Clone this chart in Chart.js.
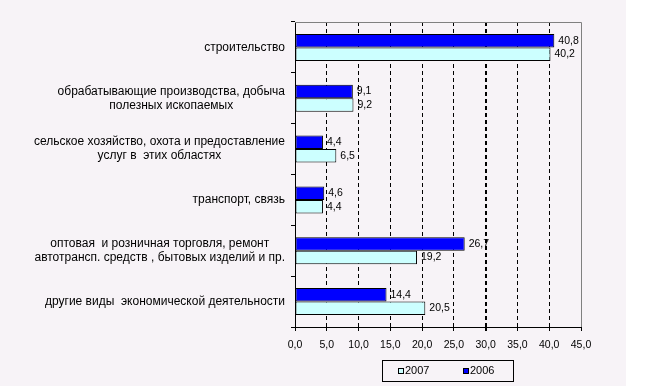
<!DOCTYPE html>
<html>
<head>
<meta charset="utf-8">
<script src="https://cdn.jsdelivr.net/npm/chart.js@4/dist/chart.umd.min.js"></script>
<style>
  html, body { margin: 0; padding: 0; background: #ffffff; }
  #wrap { position: absolute; left: 0; top: 0; width: 626px; height: 386px; background: #F7F3F7; }
  canvas { display: block; }
</style>
</head>
<body>
<div id="wrap"><canvas id="c" width="626" height="386"></canvas></div>
<script>
const categories = [
  ["строительство"],
  ["обрабатывающие производства, добыча", "полезных ископаемых"],
  ["сельское хозяйство, охота и предоставление", "услуг в  этих областях"],
  ["транспорт, связь"],
  ["оптовая  и розничная торговля, ремонт", "автотрансп. средств , бытовых изделий и пр."],
  ["другие виды  экономической деятельности"]
];
const values2006 = [40.8, 9.1, 4.4, 4.6, 26.7, 14.4];
const values2007 = [40.2, 9.2, 6.5, 4.4, 19.2, 20.5];
const seriesNames = ["2006", "2007"];
const xTicks = [0, 5, 10, 15, 20, 25, 30, 35, 40, 45];

const FONT = '"Liberation Sans", Arial, sans-serif';
const fmt = v => v.toFixed(1).replace('.', ',');

const yLabelPlugin = {
  id: 'yLabels',
  afterDraw(chart) {
    const ctx = chart.ctx;
    const ys = chart.scales.y;
    ctx.save();
    ctx.font = '12px ' + FONT;
    ctx.fillStyle = '#000';
    ctx.textBaseline = 'middle';
    ctx.textAlign = 'center';
    const right = ys.right - 10;
    const lh = 14;
    categories.forEach((lines, i) => {
      const w = Math.max(...lines.map(l => ctx.measureText(l).width));
      const cx = right - w / 2;
      const cy = ys.getPixelForTick(i);
      lines.forEach((l, j) => {
        ctx.fillText(l, cx, cy + (j - (lines.length - 1) / 2) * lh);
      });
    });
    ctx.restore();
  }
};

const valueLabelPlugin = {
  id: 'valueLabels',
  afterDatasetsDraw(chart) {
    const ctx = chart.ctx;
    ctx.save();
    ctx.font = '10.5px ' + FONT;
    ctx.fillStyle = '#000';
    ctx.textBaseline = 'middle';
    ctx.textAlign = 'left';
    chart.data.datasets.forEach((ds, di) => {
      chart.getDatasetMeta(di).data.forEach((bar, i) => {
        ctx.fillText(fmt(ds.data[i]), bar.x + 4, bar.y);
      });
    });
    ctx.restore();
  }
};

const framePlugin = {
  id: 'frame',
  beforeDatasetsDraw(chart) {
    const a = chart.chartArea;
    const ctx = chart.ctx;
    ctx.save();
    ctx.strokeStyle = '#808080';
    ctx.lineWidth = 1;
    ctx.beginPath();
    ctx.moveTo(a.left, a.top + 0.5);
    ctx.lineTo(a.right + 0.5, a.top + 0.5);
    ctx.lineTo(a.right + 0.5, a.bottom);
    ctx.stroke();
    ctx.restore();
  }
};

const legendPlugin = {
  id: 'boxLegend',
  afterDraw(chart) {
    const ctx = chart.ctx;
    ctx.save();
    const bx = 382, by = 360, bw = 131, bh = 21;
    ctx.strokeStyle = '#000';
    ctx.lineWidth = 1;
    ctx.strokeRect(bx + 0.5, by + 0.5, bw, bh);
    ctx.font = '11px ' + FONT;
    ctx.textBaseline = 'middle';
    ctx.textAlign = 'left';
    const order = [1, 0];
    const xs = [398, 463];
    order.forEach((di, k) => {
      const ds = chart.data.datasets[di];
      const x = xs[k], y = by + bh / 2 + 0.5;
      ctx.fillStyle = ds.backgroundColor;
      ctx.fillRect(x, y - 3, 6, 6);
      ctx.strokeStyle = '#000';
      ctx.strokeRect(x + 0.5, y - 2.5, 5, 5);
      ctx.fillStyle = '#000';
      ctx.fillText(ds.label, x + 7, y);
    });
    ctx.restore();
  }
};

new Chart(document.getElementById('c'), {
  type: 'bar',
  data: {
    labels: categories,
    datasets: [
      { label: seriesNames[0], data: values2006, backgroundColor: '#0000FF', borderColor: '#000', borderWidth: 1, borderSkipped: false },
      { label: seriesNames[1], data: values2007, backgroundColor: '#CCFFFF', borderColor: '#000', borderWidth: 1, borderSkipped: false }
    ]
  },
  options: {
    indexAxis: 'y',
    responsive: false,
    animation: false,
    devicePixelRatio: 1,
    layout: { padding: { top: 22, right: 45, left: 0, bottom: 0 } },
    datasets: { bar: { categoryPercentage: 0.53, barPercentage: 1 } },
    plugins: { legend: { display: false }, tooltip: { enabled: false } },
    scales: {
      x: {
        min: 0, max: 45,
        afterBuildTicks(s) { s.ticks = xTicks.map(v => ({ value: v })); },
        afterFit(s) { s.height = 59; },
        border: { display: true, color: '#000', width: 1, dash: [4, 3] },
        grid: {
          color: c => (c.tick && (c.tick.value === 0 || c.tick.value === 45)) ? 'rgba(0,0,0,0)' : '#000',
          lineWidth: c => (c.tick && c.tick.value === 30) ? 2 : 1,
          tickColor: '#000',
          tickLength: 4,
          tickBorderDash: []
        },
        ticks: {
          font: { family: FONT, size: 10.5 },
          color: '#000',
          padding: 8,
          maxRotation: 0,
          callback: v => fmt(v)
        }
      },
      y: {
        afterFit(s) { s.width = 295; },
        border: { display: true, color: '#000', width: 1 },
        grid: {
          offset: true,
          drawOnChartArea: false,
          drawTicks: true,
          tickLength: 4,
          tickColor: '#000'
        },
        ticks: { display: false }
      }
    }
  },
  plugins: [framePlugin, valueLabelPlugin, yLabelPlugin, legendPlugin]
});
</script>
</body>
</html>
